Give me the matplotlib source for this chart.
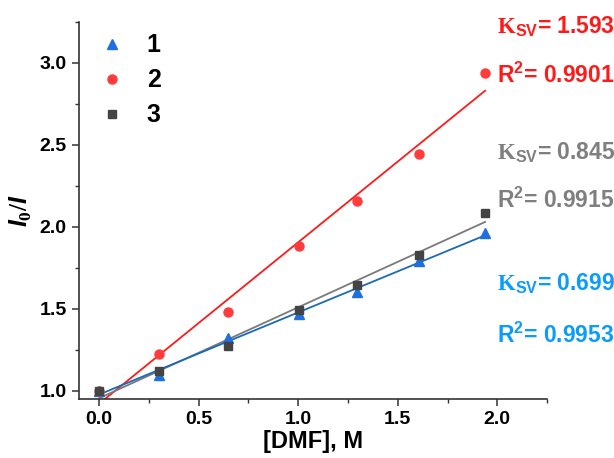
import numpy as np
import matplotlib
matplotlib.use("Agg")
import matplotlib.pyplot as plt

plt.rcParams['font.family'] = ['Liberation Sans', 'DejaVu Sans']
plt.rcParams['mathtext.fontset'] = 'custom'
plt.rcParams['mathtext.rm'] = 'Liberation Serif:bold'
plt.rcParams['mathtext.sf'] = 'Liberation Sans:bold'
plt.rcParams['mathtext.bf'] = 'Liberation Sans:bold'
plt.rcParams['mathtext.it'] = 'Liberation Sans:bold:italic'

# data
dmf = [0.0, 0.30, 0.646, 1.003, 1.293, 1.606, 1.939]
s1 = [1.00, 1.096, 1.32, 1.47, 1.60, 1.79, 1.96]
s2 = [1.00, 1.222, 1.483, 1.88, 2.157, 2.446, 2.941]
s3 = [1.00, 1.12, 1.275, 1.49, 1.645, 1.83, 2.083]
labels = ['1', '2', '3']
ksv = ['1.593', '0.845', '0.699']
r2 = ['0.9901', '0.9915', '0.9953']

fig = plt.figure(figsize=(6.14, 4.58), dpi=100)
ax = fig.add_axes([0.129, 0.1295, 0.762, 0.8225])

series = [s1, s2, s3]
mcol = ['#1f6fe0', '#ff3b3b', '#444444']
lcol = ['#1a6ab8', '#ff1a1a', '#7a7a7a']
markers = ['^', 'o', 's']
msize = [7, 6.5, 6]

x = np.array(dmf)
xf = np.array([0, dmf[-1]])
# fits first, gray under blue
for i in [1, 2, 0]:
    k, b = np.polyfit(x, series[i], 1)
    ax.plot(xf, k * xf + b, color=lcol[i], lw=1.3, zorder=2)
for i in range(3):
    ax.plot(x, series[i], ls='none', marker=markers[i], ms=msize[i],
            color=mcol[i], label=labels[i], zorder=3)

ax.set_xlim(-0.1, 2.25)
ax.set_ylim(0.951, 3.242)
ax.set_xticks([0.0, 0.5, 1.0, 1.5, 2.0])
ax.set_xticks(np.arange(0.25, 2.3, 0.5), minor=True)
ax.set_yticks([1.0, 1.5, 2.0, 2.5, 3.0])
ax.set_yticks(np.arange(1.25, 3.3, 0.5), minor=True)
ax.set_xticklabels(['0.0', '0.5', '1.0', '1.5', '2.0'], fontweight='bold', fontsize=14)
ax.set_yticklabels(['1.0', '1.5', '2.0', '2.5', '3.0'], fontweight='bold', fontsize=14)
for s in ['top', 'right']:
    ax.spines[s].set_visible(False)
for s in ['left', 'bottom']:
    ax.spines[s].set_color('#333333')
    ax.spines[s].set_linewidth(1.2)
ax.tick_params(which='major', direction='out', length=5, width=1.1, color='#333333', pad=4)
ax.tick_params(which='minor', direction='out', length=3, width=1.0, color='#333333')

ax.set_xlabel('[DMF], M', fontsize=17, fontweight='bold', labelpad=1)
ax.set_ylabel(r'$\mathit{I_0/I}$', fontsize=18, labelpad=4)

leg = ax.legend(loc='upper left', frameon=False, prop={'weight': 'bold', 'size': 18},
                handlelength=1.2, handletextpad=0.8, labelspacing=0.44,
                borderaxespad=0.3, bbox_to_anchor=(0.0, 1.016))

tcol = ['#ff1a1a', '#7f7f7f', '#0a9bff']
base_k = [33, 159, 290]
base_r = [83, 208, 343]
for j in range(3):
    c = tcol[j]
    fig.text(497 / 614, 1 - base_k[j] / 458, r'$\mathrm{K}_{\mathsf{SV}}$= ' + ksv[j],
             color=c, fontsize=16.5, fontweight='bold', va='baseline')
    fig.text(497 / 614, 1 - base_r[j] / 458, r'R$^{\mathsf{2}}$= ' + r2[j],
             color=c, fontsize=16.5, fontweight='bold', va='baseline')

fig.savefig('out.png', dpi=100)
